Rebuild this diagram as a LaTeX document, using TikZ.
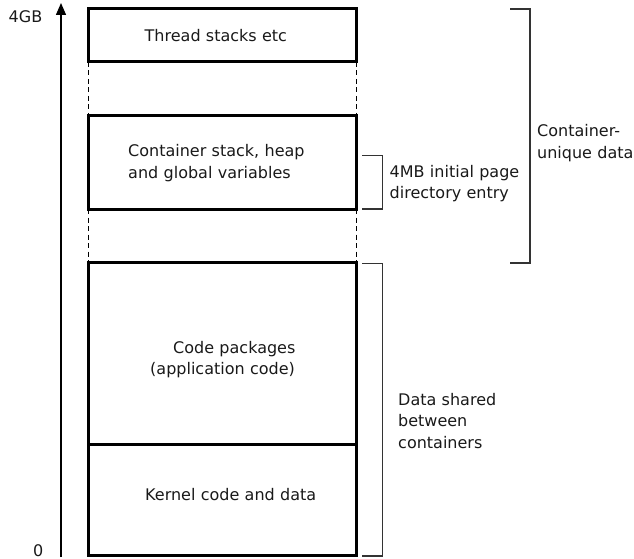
\documentclass[tikz,border=0pt]{standalone}
\usepackage{fontspec}
\setmainfont{DejaVu Sans}
\usetikzlibrary{arrows.meta,calc}

\begin{document}
\begin{tikzpicture}[x=1pt,y=-1pt,
  every node/.style={font=\fontsize{16}{21.5}\selectfont, text=black!90},
  memblock/.style={draw=black, line width=3pt, rectangle, outer sep=0pt,
                   inner sep=0pt, anchor=north west, minimum width=268pt},
  txt/.style={anchor=base west, inner sep=0pt, align=left, text width=190pt},
  gap/.style={draw=black, line width=0.9pt, dash pattern=on 5pt off 3.5pt},
  bracket/.style={draw=black!80, line width=1.3pt},
  axis/.style={draw=black, line width=1.4pt, -{Triangle[length=12pt,width=10pt]}}]

  % canvas
  \useasboundingbox (0,0) rectangle (634,559);

  % address axis
  \coordinate (axbot) at (61,557);
  \coordinate (axtop) at (61,3);
  \draw[axis] (axbot) -- (axtop);
  \node[txt] (top) at (8.5,22.5) {4GB};
  \node[txt] (zero) at (33,556.5) {0};

  % memory blocks
  \node[memblock, minimum height=53pt]  (thread) at (88,9)   {};
  \node[memblock, minimum height=93pt]  (cont)   at (88,116) {};
  \node[memblock, minimum height=182pt] (code)   at (88,262) {};
  \node[memblock, minimum height=111pt] (kern)   at (88,444) {};

  % unmapped gaps between blocks
  \draw[gap] (thread.south west) -- (cont.north west);
  \draw[gap] (thread.south east) -- (cont.north east);
  \draw[gap] (cont.south west) -- (code.north west);
  \draw[gap] (cont.south east) -- (code.north east);

  % block contents
  \node[txt] (tthread) at (144.5,42)  {Thread stacks etc};
  \node[txt] (tcont)   at (128,157)   {Container stack, heap\\and global variables};
  \node[txt] (tcode)   at (150,353)   {\hspace*{23pt}Code packages\\(application code)};
  \node[txt] (tkern)   at (145,500)   {Kernel code and data};

  % 4MB page directory entry
  \coordinate (pa) at (362,155.5);
  \coordinate (pb) at (382.5,155.5);
  \coordinate (pc) at (382.5,209);
  \coordinate (pd) at (362,209);
  \draw[bracket] (pa) -- (pb) -- (pc) -- (pd);
  \node[txt] (tpage) at (389.5,177) {4MB initial page\\directory entry};

  % container-unique range
  \coordinate (ua) at (510,9);
  \coordinate (ub) at (530,9);
  \coordinate (uc) at (530,263);
  \coordinate (ud) at (510,263);
  \draw[bracket] (ua) -- (ub) -- (uc) -- (ud);
  \node[txt] (tuniq) at (537,136.5) {Container-\\unique data};

  % shared range
  \coordinate (sa) at (362,263.5);
  \coordinate (sb) at (382.5,263.5);
  \coordinate (sc) at (382.5,556);
  \coordinate (sd) at (362,556);
  \draw[bracket] (sa) -- (sb) -- (sc) -- (sd);
  \node[txt] (tshared) at (398,405) {Data shared\\between\\containers};
\end{tikzpicture}
\end{document}
